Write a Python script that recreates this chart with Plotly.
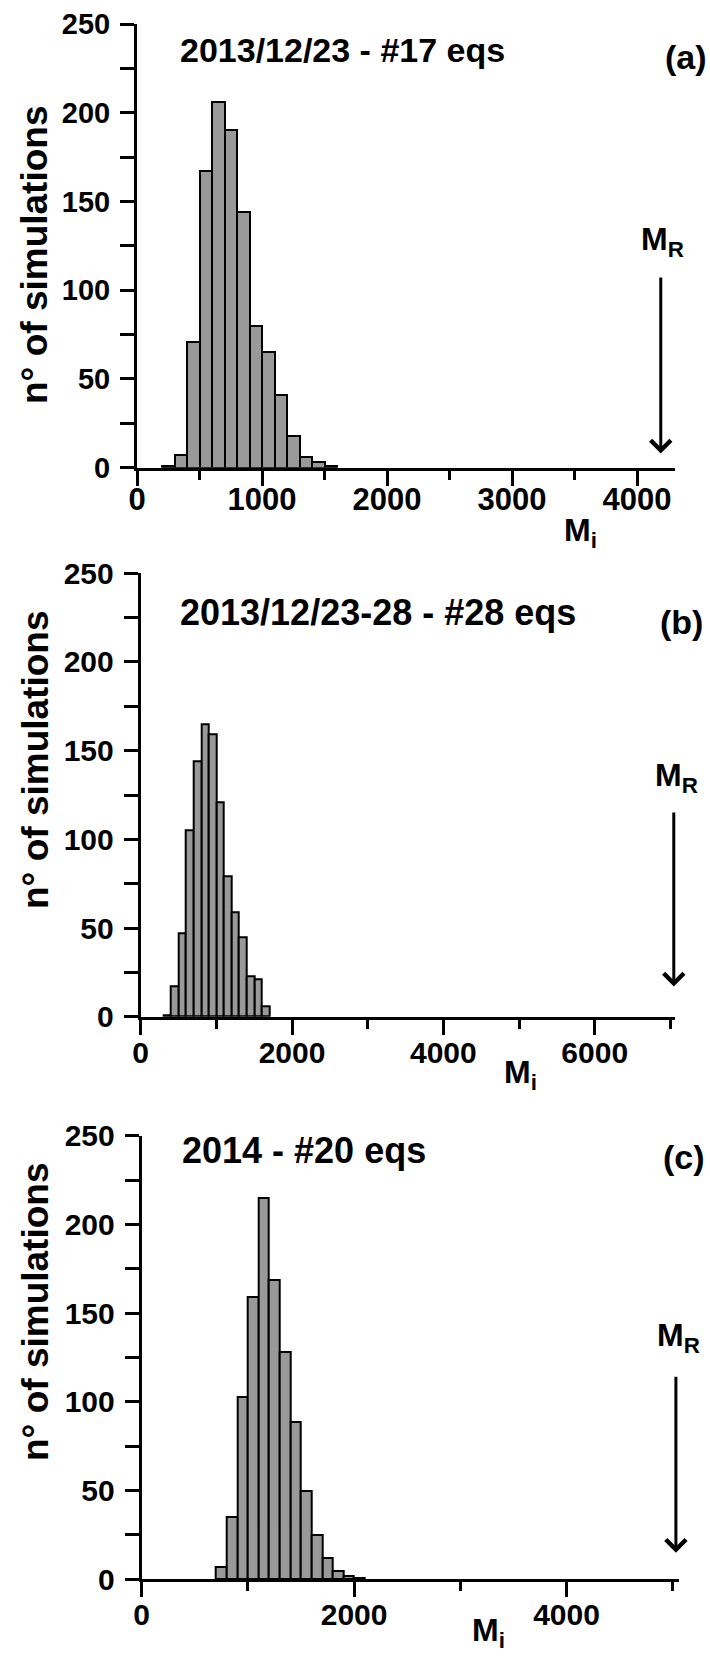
import plotly.graph_objects as go

W, H = 710, 1656

# ---------------- data ----------------
BIN_W = 100
# panel (a) 2013/12/23 - #17 eqs
bins_a = [200, 300, 400, 500, 600, 700, 800, 900, 1000, 1100, 1200, 1300, 1400, 1500]
counts_a = [1, 7, 71, 167, 206, 190, 144, 80, 65, 41, 18, 6, 3, 1]
# panel (b) 2013/12/23-28 - #28 eqs
bins_b = [300, 400, 500, 600, 700, 800, 900, 1000, 1100, 1200, 1300, 1400, 1500, 1600]
counts_b = [1, 17, 47, 105, 144, 165, 159, 121, 79, 59, 45, 23, 21, 6]
# panel (c) 2014 - #20 eqs
bins_c = [700, 800, 900, 1000, 1100, 1200, 1300, 1400, 1500, 1600, 1700, 1800, 1900, 2000]
counts_c = [7, 35, 103, 159, 215, 169, 128, 89, 50, 25, 12, 5, 2, 1]

titles = ["2013/12/23 - #17 eqs", "2013/12/23-28 - #28 eqs", "2014 - #20 eqs"]
tags = ["(a)", "(b)", "(c)"]
MR_values = [4190, 7045, 5030]          # observed M_R (arrow position)
x_ranges = [4307, 7057, 5063]
x_major = [[0, 1000, 2000, 3000, 4000], [0, 2000, 4000, 6000], [0, 2000, 4000]]
x_minor = [500, 1000, 1000]
y_ticks = [0, 50, 100, 150, 200, 250]

# ---------------- layout helpers (pixel geometry) ----------------
def px(x):
    return x / W

def py(y):
    return 1 - y / H

# [left, right, top, bottom] of each plot area in pixels
boxes = [
    [137.0, 675.4, 24.0, 467.7],
    [140.7, 674.7, 573.3, 1016.7],
    [141.7, 679.4, 1135.9, 1579.3],
]
x_standoff = [-13, -8, -8]

FONT = "Liberation Sans, Arial, Helvetica, sans-serif"

fig = go.Figure()
datasets = [(bins_a, counts_a), (bins_b, counts_b), (bins_c, counts_c)]
for i, (bx, cy) in enumerate(datasets):
    sfx = "" if i == 0 else str(i + 1)
    fig.add_trace(go.Bar(
        x=bx, y=cy, width=BIN_W, offset=0,
        marker=dict(color="#999999", line=dict(color="black", width=2)),
        xaxis="x" + sfx, yaxis="y" + sfx, showlegend=False, hoverinfo="skip",
    ))

layout = dict(
    width=W, height=H, margin=dict(l=0, r=0, t=0, b=0, autoexpand=False),
    paper_bgcolor="white", plot_bgcolor="white",
    barmode="overlay", bargap=0, showlegend=False,
)

for i, (l, r, t, b) in enumerate(boxes):
    sfx = "" if i == 0 else str(i + 1)
    xtickfont = dict(family=FONT, size=31 if i == 0 else 30, color="black", weight="bold")
    layout["xaxis" + sfx] = dict(
        domain=[px(l), px(r)], range=[0, x_ranges[i]], anchor="y" + sfx,
        showline=True, linecolor="black", linewidth=3, mirror=False, automargin=False,
        ticks="outside", ticklen=15, tickwidth=3, tickcolor="black",
        tickmode="array", tickvals=x_major[i], ticktext=[str(v) for v in x_major[i]],
        tickfont=xtickfont, ticklabelstandoff=x_standoff[i],
        minor=dict(dtick=x_minor[i], tick0=0, ticks="outside", ticklen=9,
                   tickwidth=3, tickcolor="black", showgrid=False),
        showgrid=False, zeroline=False, fixedrange=True,
    )
    layout["yaxis" + sfx] = dict(
        domain=[py(b), py(t)], range=[0, 250], anchor="x" + sfx,
        showline=True, linecolor="black", linewidth=3, automargin=False,
        ticks="outside", ticklen=14, tickwidth=3, tickcolor="black",
        tickmode="array", tickvals=y_ticks, ticktext=[str(v) for v in y_ticks],
        tickfont=dict(family=FONT, size=29 if i == 0 else 30, color="black", weight="bold"),
        ticklabelstandoff=4,
        minor=dict(dtick=25, tick0=0, ticks="outside", ticklen=14, tickwidth=3,
                   tickcolor="black", showgrid=False),
        showgrid=False, zeroline=False, fixedrange=True,
    )

fig.update_layout(**layout)

ann = []
title_pos = [(178, 50), (178, 612), (180, 1150)]
title_size = [34, 36, 36]
tag_pos = [(686, 57), (681, 622), (684, 1157)]
ytitle_pos = [(34, 255), (35, 760), (35, 1312)]
mi_pos = [(580, 532), (520, 1074), (488, 1632)]
mr_pos = [(662, 242), (676, 777), (678, 1337)]
arrow_top = [108, 116, 115]
arrow_tip = [8, 17, 15]

for i in range(3):
    sfx = "" if i == 0 else str(i + 1)
    ann.append(dict(text=titles[i], x=px(title_pos[i][0]), y=py(title_pos[i][1]),
                    xref="paper", yref="paper", xanchor="left", yanchor="middle",
                    showarrow=False, font=dict(family=FONT, size=title_size[i], color="black", weight="bold")))
    ann.append(dict(text=tags[i], x=px(tag_pos[i][0]), y=py(tag_pos[i][1]),
                    xref="paper", yref="paper", xanchor="center", yanchor="middle",
                    showarrow=False, font=dict(family=FONT, size=34, color="black", weight="bold")))
    ann.append(dict(text="n° of simulations", x=px(ytitle_pos[i][0]), y=py(ytitle_pos[i][1]),
                    xref="paper", yref="paper", xanchor="center", yanchor="middle", textangle=-90,
                    showarrow=False, font=dict(family=FONT, size=37, color="black", weight="bold")))
    ann.append(dict(text="M<sub>i</sub>", x=px(mi_pos[i][0]), y=py(mi_pos[i][1]),
                    xref="paper", yref="paper", xanchor="center", yanchor="middle",
                    showarrow=False, font=dict(family=FONT, size=32, color="black", weight="bold")))
    ann.append(dict(text="M<sub>R</sub>", x=px(mr_pos[i][0]), y=py(mr_pos[i][1]),
                    xref="paper", yref="paper", xanchor="center", yanchor="middle",
                    showarrow=False, font=dict(family=FONT, size=32, color="black", weight="bold")))
    ann.append(dict(text="", x=MR_values[i], y=arrow_tip[i], xref="x" + sfx, yref="y" + sfx,
                    ax=MR_values[i], ay=arrow_top[i], axref="x" + sfx, ayref="y" + sfx,
                    showarrow=True, arrowhead=4, arrowsize=1.3, arrowwidth=3, arrowcolor="black",
                    standoff=0, startstandoff=0))

fig.update_layout(annotations=ann)
fig.write_html(
    "out.html",
    config={"displayModeBar": False, "responsive": False},
    post_script="document.body.style.margin='0px';document.documentElement.style.overflow='hidden';",
)
